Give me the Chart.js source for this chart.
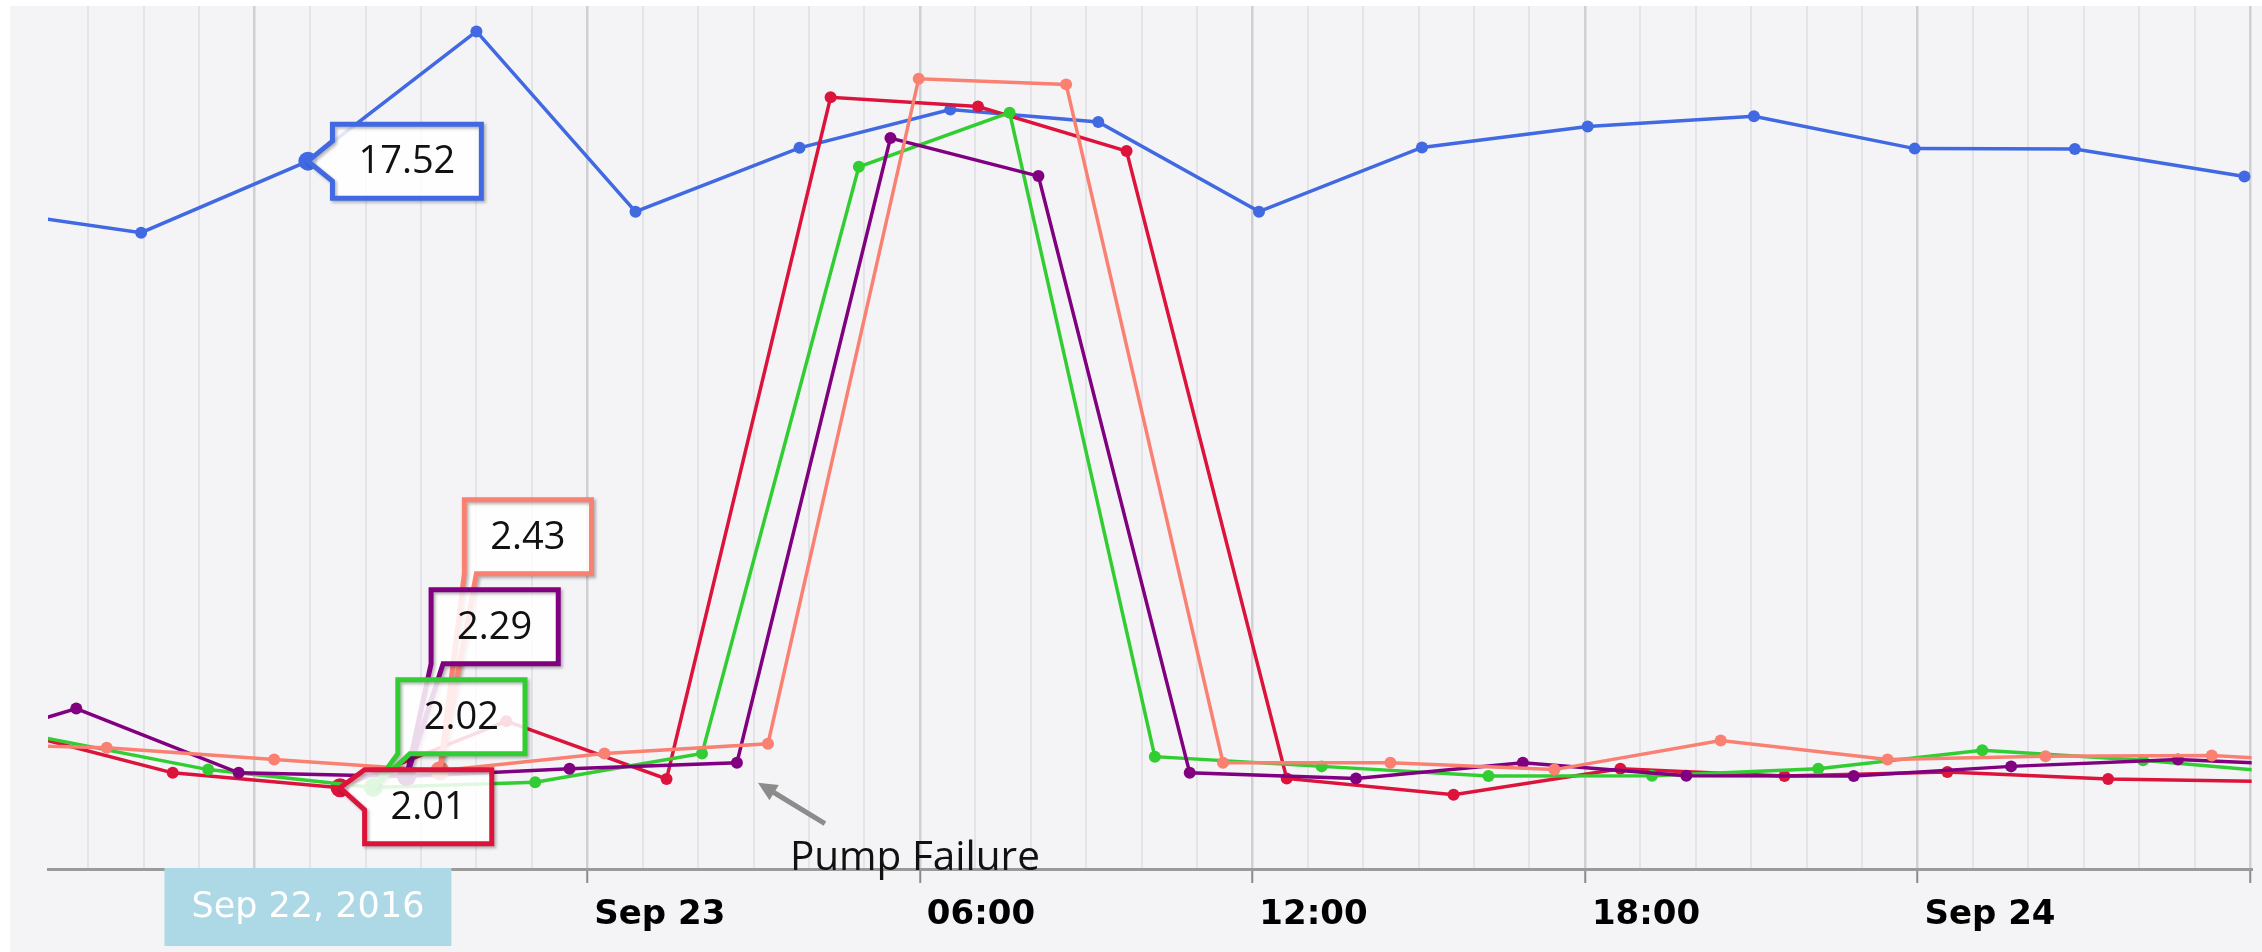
<!DOCTYPE html>
<html lang="en">
<head>
<meta charset="UTF-8">
<title>Pump Failure</title>
<script src="https://cdn.jsdelivr.net/npm/chart.js"></script>
<style>
  html, body { margin: 0; padding: 0; background: #ffffff; }
  #chartBox { position: relative; width: 2262px; height: 952px; }
</style>
</head>
<body>
<div id="chartBox"><canvas id="pumpChart" width="2262" height="952"></canvas></div>
<script>
// x values are hours counted from Sep 23 2016 00:00
const blueHours = [-11.0, -8.05, -5.04, -2.0, 0.87, 3.83, 6.55, 9.22, 12.12, 15.06, 18.05, 21.05, 23.95, 26.84, 29.9];
const blueValues = [16.33, 15.75, 17.52, 20.73, 16.27, 17.85, 18.80, 18.49, 16.27, 17.86, 18.38, 18.63, 17.83, 17.82, 17.14];

const redHours = [-10.47, -7.48, -4.46, -1.46, 1.43, 4.39, 7.05, 9.73, 12.62, 15.63, 18.64, 21.60, 24.54, 27.44, 30.45];
const redValues = [3.44, 2.38, 2.01, 3.66, 2.23, 19.10, 18.87, 17.77, 2.24, 1.84, 2.48, 2.30, 2.40, 2.23, 2.16];

const greenHours = [-9.91, -6.84, -3.86, -0.94, 2.07, 4.90, 7.62, 10.24, 13.25, 16.26, 19.21, 22.21, 25.17, 28.07, 31.05];
const greenValues = [3.28, 2.46, 2.02, 2.15, 2.86, 17.38, 18.72, 2.78, 2.54, 2.30, 2.31, 2.48, 2.94, 2.69, 2.34];

const purpleHours = [-12.22, -9.22, -6.29, -3.26, -0.32, 2.70, 5.47, 8.14, 10.87, 13.87, 16.88, 19.83, 22.85, 25.69, 28.70, 31.7];
const purpleValues = [2.72, 3.97, 2.38, 2.29, 2.48, 2.63, 18.09, 17.15, 2.38, 2.24, 2.63, 2.31, 2.30, 2.54, 2.71, 2.53];

const salmonHours = [-11.67, -8.67, -5.65, -2.66, 0.31, 3.26, 5.98, 8.64, 11.47, 14.49, 17.45, 20.45, 23.46, 26.31, 29.31, 32.3];
const salmonValues = [3.11, 3.00, 2.71, 2.43, 2.86, 3.10, 19.56, 19.42, 2.63, 2.63, 2.46, 3.18, 2.71, 2.79, 2.81, 2.57];

// labelled ticks (6 hourly)
const tickHours = [0, 6, 12, 18, 24];
const tickLabels = ['Sep 23', '06:00', '12:00', '18:00', 'Sep 24'];

// hovered point of each series (shown with a tooltip)
const hoverIndex = { blue: 2, red: 2, green: 2, purple: 3, salmon: 3 };
const hoverDateLabel = 'Sep 22, 2016';
const noteText = 'Pump Failure';
const noteIndex = 5; // last purple point before the jump

const colors = {
    blue: '#4169e1',
    red: '#dc143c',
    green: '#32cd32',
    purple: '#800080',
    salmon: '#fa8072'
};

function toPoints(hours, values) {
    return hours.map((h, i) => ({ x: h, y: values[i] }));
}

function makeSet(key, hours, values) {
    return {
        label: key,
        data: toPoints(hours, values),
        borderColor: colors[key],
        backgroundColor: colors[key],
        borderWidth: 3.5,
        tension: 0,
        clip: 0,
        pointBorderWidth: 0,
        pointBackgroundColor: colors[key],
        pointRadius: ctx => ctx.dataIndex === hoverIndex[key] ? 9.5 : 6
    };
}

function isMajor(ctx) {
    return ctx.tick && Math.abs(ctx.tick.value % 6) < 1e-6;
}

// background of the chart
const backgroundPlugin = {
    id: 'bg',
    beforeDraw(chart) {
        const c = chart.ctx;
        c.save();
        c.fillStyle = '#ffffff';
        c.fillRect(0, 0, chart.width, chart.height);
        c.fillStyle = '#f4f4f7';
        c.fillRect(10, 6, chart.width - 10, chart.height - 6);
        c.restore();
    }
};

function calloutPath(c, L, T, W, H, tip, mode) {
    const R = L + W, B = T + H;
    c.beginPath();
    c.moveTo(L, T);
    c.lineTo(R, T);
    c.lineTo(R, B);
    if (mode === 'left') {
        const h2 = 20;
        const ay = Math.min(Math.max(tip.y, T + h2), B - h2);
        c.lineTo(L, B);
        c.lineTo(L, ay + h2);
        c.lineTo(tip.x, tip.y);
        c.lineTo(L, ay - h2);
    } else {
        c.lineTo(L + 12, B);
        c.lineTo(tip.x, tip.y);
        c.lineTo(L, B);
    }
    c.closePath();
}

function drawTooltip(c, tip, color, text, top, mode) {
    c.font = '38px "Open Sans"';
    const w = c.measureText(text).width + 52;
    const h = 74;
    const left = tip.x + 24.5;
    calloutPath(c, left, top, w, h, tip, mode);
    c.fillStyle = 'rgba(255,255,255,0.85)';
    c.fill();
    c.save();
    c.shadowColor = 'rgba(0,0,0,0.28)';
    c.shadowOffsetX = 2;
    c.shadowOffsetY = 2;
    c.shadowBlur = 3;
    c.lineWidth = 5;
    c.lineJoin = 'miter';
    c.miterLimit = 4;
    c.strokeStyle = color;
    c.stroke();
    c.restore();
    c.fillStyle = '#111111';
    c.textAlign = 'center';
    c.textBaseline = 'alphabetic';
    c.fillText(text, left + w / 2, top + 49);
}

const annotationPlugin = {
    id: 'notes',
    afterDraw(chart) {
        const c = chart.ctx;
        const area = chart.chartArea;
        const metaOf = key => chart.getDatasetMeta(chart.data.datasets.findIndex(d => d.label === key));
        const hoverPt = key => {
            const el = metaOf(key).data[hoverIndex[key]];
            return { x: el.x, y: el.y, v: chart.data.datasets.find(d => d.label === key).data[hoverIndex[key]].y };
        };

        c.save();

        // pump failure arrow and note
        const anchorEl = metaOf('purple').data[noteIndex];
        const tipX = anchorEl.x + 21, tipY = anchorEl.y + 20;
        const tailX = tipX + 67, tailY = tipY + 41;
        const ang = Math.atan2(tipY - tailY, tipX - tailX);
        c.strokeStyle = '#8c8c8c';
        c.fillStyle = '#8c8c8c';
        c.lineWidth = 5;
        c.beginPath();
        c.moveTo(tailX, tailY);
        c.lineTo(tipX - 12 * Math.cos(ang), tipY - 12 * Math.sin(ang));
        c.stroke();
        c.beginPath();
        c.moveTo(tipX, tipY);
        c.lineTo(tipX - 19 * Math.cos(ang) + 9 * Math.sin(ang), tipY - 19 * Math.sin(ang) - 9 * Math.cos(ang));
        c.lineTo(tipX - 19 * Math.cos(ang) - 9 * Math.sin(ang), tipY - 19 * Math.sin(ang) + 9 * Math.cos(ang));
        c.closePath();
        c.fill();
        c.font = '40.5px "Open Sans"';
        c.fillStyle = '#111111';
        c.textAlign = 'left';
        c.textBaseline = 'alphabetic';
        c.fillText(noteText, tipX + 32, area.bottom + 1);

        // crosshair date label on the x axis
        const blue = hoverPt('blue');
        c.font = '35px "DejaVu Sans"';
        const dw = c.measureText(hoverDateLabel).width + 54;
        c.fillStyle = '#add8e6';
        c.fillRect(blue.x - dw / 2, area.bottom - 1, dw, 78);
        c.fillStyle = '#ffffff';
        c.textAlign = 'center';
        c.fillText(hoverDateLabel, blue.x, area.bottom + 48);

        // split tooltips
        drawTooltip(c, blue, colors.blue, blue.v.toFixed(2), blue.y - 37, 'left');
        const red = hoverPt('red');
        const redTop = red.y - 18;
        const stack = ['green', 'purple', 'salmon'];
        const tops = { red: redTop };
        let t = redTop;
        stack.forEach(k => { t -= 90; tops[k] = t; });
        ['salmon', 'purple', 'green'].forEach(k => {
            const p = hoverPt(k);
            drawTooltip(c, p, colors[k], p.v.toFixed(2), tops[k], 'below');
        });
        drawTooltip(c, red, colors.red, red.v.toFixed(2), redTop, 'left');

        c.restore();
    }
};

const chart = new Chart(document.getElementById('pumpChart'), {
    type: 'line',
    data: {
        datasets: [
            makeSet('salmon', salmonHours, salmonValues),
            makeSet('purple', purpleHours, purpleValues),
            makeSet('green', greenHours, greenValues),
            makeSet('red', redHours, redValues),
            makeSet('blue', blueHours, blueValues)
        ]
    },
    options: {
        responsive: false,
        animation: false,
        events: [],
        layout: { padding: { left: 48, right: 8, top: 6, bottom: 0 } },
        plugins: {
            legend: { display: false },
            tooltip: { enabled: false }
        },
        scales: {
            x: {
                type: 'linear',
                min: -9.73,
                max: 30.03,
                afterFit: scale => { scale.height = 83; },
                border: { display: true, color: '#9a9a9a', width: 3 },
                grid: {
                    color: ctx => isMajor(ctx) ? '#d0d0d4' : '#e4e4e8',
                    lineWidth: ctx => isMajor(ctx) ? 2.5 : 2,
                    tickColor: ctx => isMajor(ctx) ? '#8a8a8a' : 'rgba(0,0,0,0)',
                    tickLength: 14,
                    tickWidth: 2
                },
                ticks: {
                    stepSize: 1,
                    maxTicksLimit: 100,
                    includeBounds: false,
                    autoSkip: false,
                    maxRotation: 0,
                    align: 'start',
                    labelOffset: 7,
                    padding: 12,
                    color: '#000000',
                    font: { family: 'DejaVu Sans', size: 34, weight: 'bold' },
                    callback: value => {
                        const k = tickHours.indexOf(value);
                        return k >= 0 ? tickLabels[k] : '';
                    }
                }
            },
            y: {
                display: false,
                min: 0,
                max: 21.36
            }
        }
    },
    plugins: [backgroundPlugin, annotationPlugin]
});
</script>
</body>
</html>
